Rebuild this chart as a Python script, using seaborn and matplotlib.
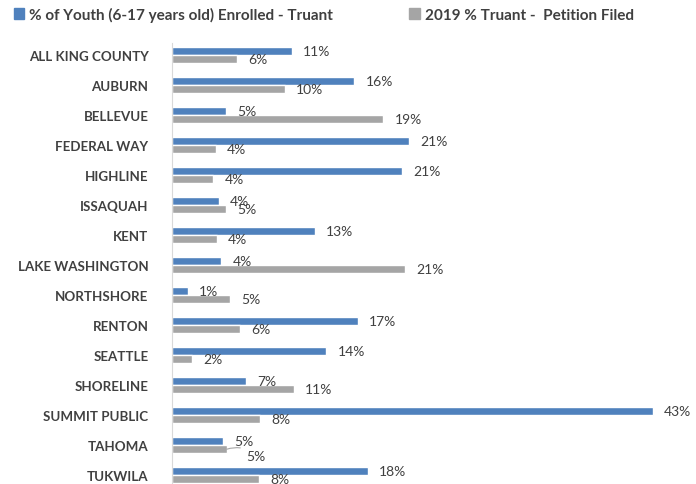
import pandas as pd
import matplotlib.pyplot as plt
import seaborn as sns
from matplotlib.patches import Patch

districts = ["ALL KING COUNTY", "AUBURN", "BELLEVUE", "FEDERAL WAY", "HIGHLINE",
             "ISSAQUAH", "KENT", "LAKE WASHINGTON", "NORTHSHORE", "RENTON",
             "SEATTLE", "SHORELINE", "SUMMIT PUBLIC", "TAHOMA", "TUKWILA"]
enrolled_truant = [10.7, 16.3, 4.8, 21.2, 20.6, 4.2, 12.8, 4.4, 1.4, 16.6,
                   13.8, 6.6, 43.0, 4.6, 17.5]
petition_filed = [5.8, 10.1, 18.9, 3.9, 3.7, 4.8, 4.0, 20.8, 5.2, 6.1,
                  1.8, 10.9, 7.9, 4.9, 7.8]
series_names = ["% of Youth (6-17 years old) Enrolled - Truant",
                "2019 % Truant -  Petition Filed"]
colors = ["#4F81BD", "#A5A5A5"]

df = pd.DataFrame({
    "district": districts * 2,
    "value": enrolled_truant + petition_filed,
    "series": [series_names[0]] * len(districts) + [series_names[1]] * len(districts),
})

sns.set_style("white")
plt.rcParams["font.family"] = ["Lato", "DejaVu Sans"]

fig = plt.figure(figsize=(6.96, 4.85), dpi=100)
ax = fig.add_axes([172 / 696, 0.0, 518 / 696, 1 - 44 / 485])

sns.barplot(data=df, y="district", x="value", hue="series", orient="h",
            palette=colors, width=0.56, ax=ax, legend=False, saturation=1)

# Tahoma's grey label is pushed aside with a leader line, as in the original
tahoma = districts.index("TAHOMA")
for k, cont in enumerate(ax.containers):
    labels = [f"{v:.0f}%" for v in cont.datavalues]
    if k == 1:
        labels[tahoma] = ""
    ax.bar_label(cont, labels=labels, padding=8, fontsize=10, color="#404040")

bar = ax.containers[1][tahoma]
ax.annotate(f"{petition_filed[tahoma]:.0f}%",
            xy=(bar.get_width(), bar.get_y() + bar.get_height() / 2),
            xytext=(14, -5), textcoords="offset points",
            fontsize=10, color="#404040", va="center",
            arrowprops=dict(arrowstyle="-", color="#A5A5A5", lw=0.8,
                            connectionstyle="arc3,rad=0.3", shrinkA=2, shrinkB=0))

ax.set_xlim(0, 46.3)
ax.set_ylim(14.3, -0.4)
ax.set_xlabel("")
ax.set_ylabel("")
ax.set_xticks([])
ax.tick_params(axis="y", length=0, pad=17)
for lbl in ax.get_yticklabels():
    lbl.set_fontweight("bold")
    lbl.set_fontsize(9.6)
    lbl.set_color("#404040")
for side in ["top", "right", "bottom"]:
    ax.spines[side].set_visible(False)
ax.spines["left"].set_color("#D9D9D9")

handles = [Patch(color=c) for c in colors]
fig.legend(handles, series_names, loc="upper left", bbox_to_anchor=(0.0, 1.012),
           ncol=2, frameon=False, handlelength=0.7, handleheight=0.7,
           handletextpad=0.3, columnspacing=5.0,
           prop={"weight": "bold", "size": 11}, labelcolor="#404040")

fig.savefig("out.png", dpi=100)
